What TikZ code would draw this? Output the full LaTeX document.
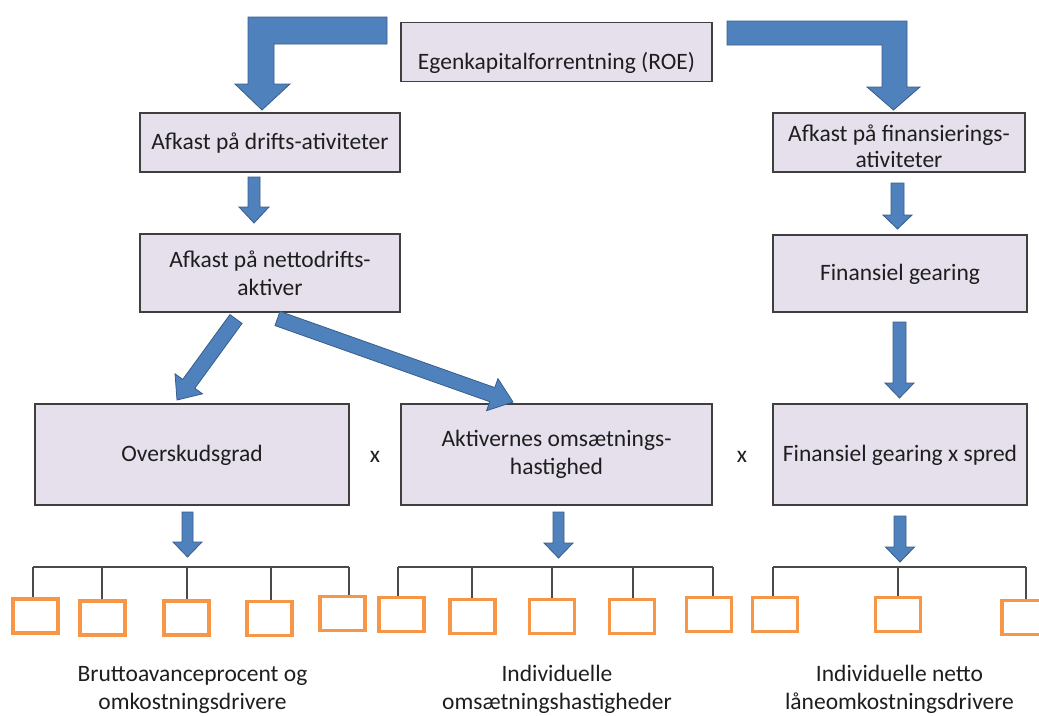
\documentclass[tikz,border=0pt]{standalone}
\usepackage{fontspec}
\setmainfont{Carlito}
\usetikzlibrary{calc}
\definecolor{boxfill}{HTML}{E6E0EC}
\definecolor{boxline}{HTML}{3F3F3F}
\definecolor{arrowfill}{HTML}{4F81BD}
\definecolor{arrowline}{HTML}{385D8A}
\definecolor{orangeline}{HTML}{F79646}
\definecolor{txt}{HTML}{1E1E1E}
\definecolor{brk}{HTML}{4A4A4A}
\newcommand{\blockarr}[5]{%
  \coordinate (hb) at ($(#2)!#5!(#1)$);
  \path[blockarrow] ($(#1)!#3!90:(#2)$) -- ($(hb)!#3!90:(#2)$) -- ($(hb)!#4!90:(#2)$) -- (#2)
    -- ($(hb)!#4!-90:(#2)$) -- ($(hb)!#3!-90:(#2)$) -- ($(#1)!#3!-90:(#2)$) -- cycle;}
\begin{document}
\begin{tikzpicture}[x=1pt,y=-1pt,
  box/.style={draw=boxline, fill=boxfill, line width=1.6pt, inner sep=0pt, align=center,
    text=txt, font=\fontsize{23.5}{28}\selectfont},
  single/.style={text height=17pt, text depth=4pt},
  leaf/.style={draw=orangeline, line width=3.3pt, inner sep=0pt, minimum width=45pt, minimum height=34pt},
  blockarrow/.style={fill=arrowfill, draw=arrowline, line width=0.8pt, line join=miter},
  bracket/.style={draw=brk, line width=1.8pt},
  lbl/.style={text=txt, align=center, inner sep=0pt, font=\fontsize{23.5}{28}\selectfont}
]
\useasboundingbox (0,0) rectangle (1039,715);
\clip (0,0) rectangle (1039,715);

% boxes
\node[box, minimum width=311pt, minimum height=59pt, text height=34pt, text depth=0pt] (roe) at (556.5,52) {Egenkapitalforrentning (ROE)};
\node[box, single, minimum width=260pt, minimum height=59pt] (drift) at (270,142.5) {Afkast på drifts-ativiteter};
\node[box, minimum width=260pt, minimum height=78pt] (netto) at (270,273) {Afkast på nettodrifts-\\aktiver};
\node[box, minimum width=252pt, minimum height=59pt] (fin) at (899,142.5) {\rule{0pt}{24pt}Afkast på finansierings-\\[-2pt]ativiteter};
\node[box, single, minimum width=254pt, minimum height=77pt] (gear) at (900,273.5) {Finansiel gearing};
\node[box, single, minimum width=314pt, minimum height=101pt] (over) at (192,454.5) {Overskudsgrad};
\node[box, minimum width=311pt, minimum height=101pt] (akt) at (556.5,454.5) {Aktivernes omsætnings-\\hastighed};
\node[box, single, minimum width=254pt, minimum height=101pt] (fgs) at (900,454.5) {Finansiel gearing x spred};

\node[lbl] (x1) at (375,457) {x};
\node[lbl] (x2) at (742,457) {x};

% L-shaped arrows from ROE
\path[blockarrow] (387,17) -- (248,17) -- (248,84) -- (235,84) -- (262,110) -- (290,84) -- (274,84) -- (274,44) -- (387,44) -- cycle;
\path[blockarrow] (727,21) -- (907,21) -- (907,87) -- (920,87) -- (893.5,110) -- (867,87) -- (882,87) -- (882,45) -- (727,45) -- cycle;

% straight block arrows
\coordinate (a1s) at (254,177);   \coordinate (a1e) at (254,223);
\coordinate (a2s) at (897.5,183); \coordinate (a2e) at (897.5,229);
\coordinate (a3s) at (899.5,322); \coordinate (a3e) at (899.5,398);
\coordinate (a4s) at (236,319);   \coordinate (a4e) at (177,400);
\coordinate (a5s) at (277.5,318.5); \coordinate (a5e) at (513,402);
\coordinate (a6s) at (187.5,512); \coordinate (a6e) at (187.5,557);
\coordinate (a7s) at (558.5,512); \coordinate (a7e) at (558.5,558);
\coordinate (a8s) at (900,516);   \coordinate (a8e) at (900,562);
\blockarr{a1s}{a1e}{6pt}{15pt}{16pt}
\blockarr{a2s}{a2e}{6.5pt}{14.5pt}{14pt}
\blockarr{a3s}{a3e}{6.5pt}{14.5pt}{15pt}
\blockarr{a4s}{a4e}{7.5pt}{17pt}{20pt}
\blockarr{a5s}{a5e}{7.5pt}{17pt}{22pt}
\blockarr{a6s}{a6e}{5.5pt}{14.5pt}{15pt}
\blockarr{a7s}{a7e}{5.5pt}{14.5pt}{15pt}
\blockarr{a8s}{a8e}{6pt}{14.5pt}{15pt}

% leaf boxes
\node[leaf] (L1) at (35.5,616) {};
\node[leaf] (L2) at (102.5,618) {};
\node[leaf] (L3) at (186.5,618) {};
\node[leaf] (L4) at (269.5,618.5) {};
\node[leaf] (L5) at (342.5,613.5) {};
\node[leaf] (M1) at (401.5,614.5) {};
\node[leaf] (M2) at (472.5,616.5) {};
\node[leaf] (M3) at (552,616.5) {};
\node[leaf] (M4) at (632,616.5) {};
\node[leaf] (M5) at (709,614.5) {};
\node[leaf] (R1) at (775,614.5) {};
\node[leaf] (R2) at (898,614.5) {};
\node[leaf] (R3) at (1024.5,617.5) {};

% brackets
\foreach \n/\x in {L1/33,L2/102,L3/187,L4/271,L5/349,M1/398,M2/472,M3/552,M4/633,M5/713,R1/773,R2/898,R3/1026}{
  \coordinate (b\n) at (\x,567);
  \draw[bracket] (b\n) -- (b\n |- \n.north);
}
\draw[bracket] (bL1) -- (bL5);
\draw[bracket] (bM1) -- (bM5);
\draw[bracket] (bR1) -- (bR3);

% bottom labels
\node[lbl] (t1) at (192.5,689.5) {Bruttoavanceprocent og\\omkostningsdrivere};
\node[lbl] (t2) at (557,689.5) {Individuelle\\omsætningshastigheder};
\node[lbl] (t3) at (899.5,689.5) {Individuelle netto\\låneomkostningsdrivere};
\end{tikzpicture}
\end{document}
